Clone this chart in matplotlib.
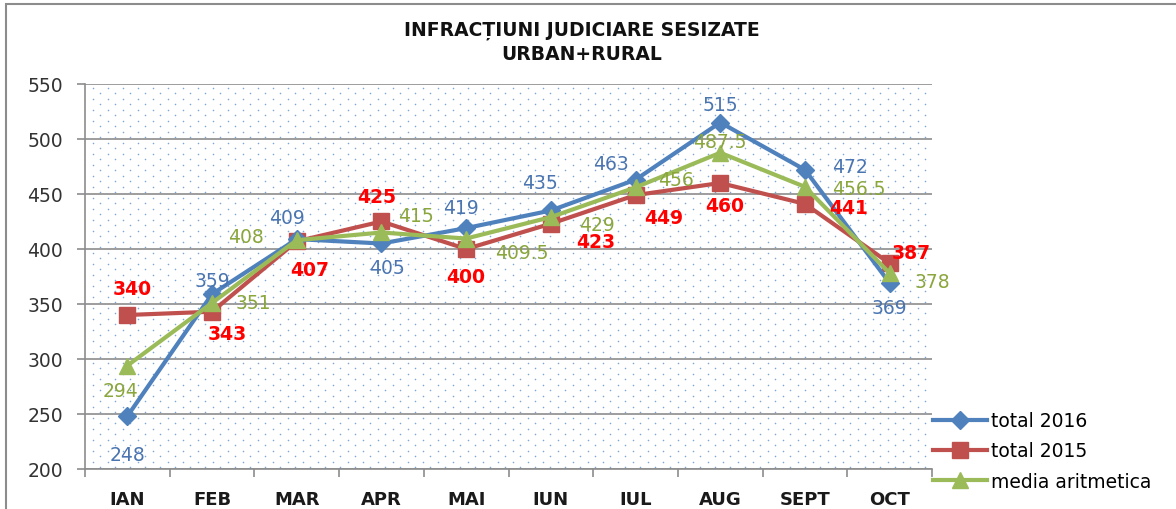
import matplotlib.pyplot as plt
import matplotlib.patches as patches
import numpy as np

plt.rcParams['font.family'] = ['DejaVu Sans']

months = ["IAN", "FEB", "MAR", "APR", "MAI", "IUN", "IUL", "AUG", "SEPT", "OCT"]
total_2016 = [248, 359, 409, 405, 419, 435, 463, 515, 472, 369]
total_2015 = [340, 343, 407, 425, 400, 423, 449, 460, 441, 387]
media = [294, 351, 408, 415, 409.5, 429, 456, 487.5, 456.5, 378]

# label offsets in pixels (dx, dy), hand placed like the excel chart
off_2016 = [(0, -38), (0, 14), (-10, 22), (5, -24), (-5, 21), (-11, 28), (-25, 16), (0, 18), (45, 3), (0, -24)]
off_2015 = [(5, 26), (15, -22), (13, -28), (-5, 25), (0, -28), (45, -18), (28, -22), (4, -23), (44, -4), (22, 11)]
off_media = [(-7, -25), (41, 0), (-51, 4), (34, 17), (56, -14), (46, -7), (40, 8), (0, 11), (54, -2), (43, -8)]

blue, red, green = "#4F81BD", "#C0504D", "#9BBB59"

fig = plt.figure(figsize=(11.76, 5.10), dpi=100)
ax = fig.add_axes([85/1176, 1-470/510, 847/1176, 385/510])

# dotted background
xs, ys = [], []
for r, yy in enumerate(np.arange(0.004, 1.0, 5.5/385)):
    start = 0.5/847*15 if r % 2 else 0.5/847*15 + 7.5/847
    for xx in np.arange(start, 1.0, 15/847):
        xs.append(xx)
        ys.append(yy)
ax.scatter(xs, ys, s=1.3, color="#7fa6d8", transform=ax.transAxes, zorder=0, linewidths=0)

x = np.arange(len(months))
ax.plot(x, total_2016, color=blue, lw=3, marker="D", ms=9, label="total 2016", zorder=3)
ax.plot(x, total_2015, color=red, lw=3, marker="s", ms=11, label="total 2015", zorder=2)
ax.plot(x, media, color=green, lw=3, marker="^", ms=11, label="media aritmetica", zorder=4)

def fmt(v):
    return f"{v:g}"

for vals, offs, col, wt in [(total_2016, off_2016, "#4a75b0", "normal"),
                            (total_2015, off_2015, "#FF0000", "bold"),
                            (media, off_media, "#8aa63c", "normal")]:
    for i, v in enumerate(vals):
        ax.annotate(fmt(v), (i, v), xytext=offs[i], textcoords="offset pixels",
                    ha="center", va="center", fontsize=13.5, color=col,
                    fontweight=wt, zorder=5)

ax.set_ylim(200, 550)
ax.set_xlim(-0.5, 9.5)
ax.set_yticks(range(200, 551, 50))
ax.yaxis.grid(True, color="#8c8c8c", lw=1.2)
ax.set_axisbelow(True)
ax.set_xticks(np.arange(-0.5, 10, 1))
ax.set_xticklabels([])
ax.set_xticks(x, minor=True)
ax.set_xticklabels(months, minor=True, fontweight="bold", fontsize=13)
ax.tick_params(axis="x", which="minor", length=0, pad=15, colors="#1a1a1a")
ax.tick_params(axis="x", which="major", length=6, color="#8c8c8c", width=1.2)
ax.tick_params(axis="y", length=6, color="#8c8c8c", width=1.2, pad=10, labelsize=13.5, labelcolor="#333333")
for s in ["top", "right"]:
    ax.spines[s].set_visible(False)
for s in ["left", "bottom"]:
    ax.spines[s].set_color("#8c8c8c")
    ax.spines[s].set_linewidth(1.2)

fig.text(582/1176, 1-30/510, "INFRACȚIUNI JUDICIARE SESIZATE", ha="center", va="center",
         fontsize=13.5, fontweight="bold", color="#111111")
fig.text(582/1176, 1-55/510, "URBAN+RURAL", ha="center", va="center",
         fontsize=13.5, fontweight="bold", color="#111111")

fig.legend(loc="center left", bbox_to_anchor=(933/1176, 1-452/510), frameon=False,
           borderpad=0, borderaxespad=0, handlelength=2.9, handletextpad=0.2,
           labelspacing=0.6, fontsize=13.5)

fig.patches.append(patches.Rectangle((6/1176, -0.1), 1.2, 1.1 - 5/510, transform=fig.transFigure,
                                     fill=False, edgecolor="#8c8c8c", lw=1.5, clip_on=False))

fig.savefig("out.png", dpi=100)
